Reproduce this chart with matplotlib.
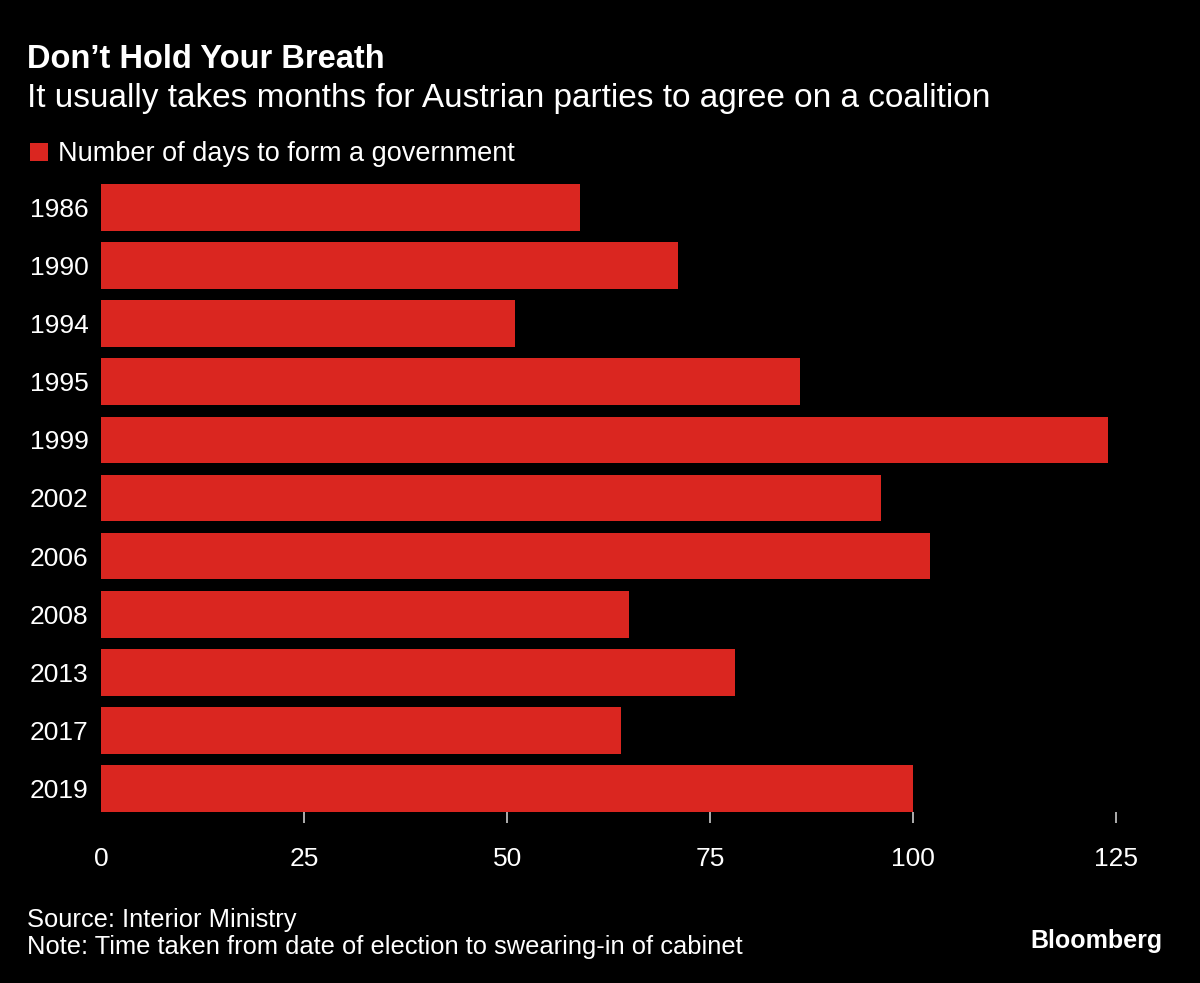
import matplotlib
matplotlib.use("Agg")
import matplotlib.pyplot as plt
from matplotlib.patches import Rectangle

years = ["1986", "1990", "1994", "1995", "1999", "2002", "2006", "2008", "2013", "2017", "2019"]
days = [59, 71, 51, 86, 124, 96, 102, 65, 78, 64, 100]
xticks = [0, 25, 50, 75, 100, 125]
xlabels = ["0", "25", "50", "75", "100", "125"]

BG = "#000000"
RED = "#da2620"
FONT = ['Liberation Sans', 'DejaVu Sans']
plt.rcParams['font.family'] = FONT

fig = plt.figure(figsize=(12, 9.83), dpi=100, facecolor=BG)
W, H = 1200, 983
left, right, top, bottom = 101, 1157, 184, 812
ax = fig.add_axes([left / W, (H - bottom) / H, (right - left) / W, (bottom - top) / H])
ax.set_facecolor(BG)

pos = list(range(len(years)))
ax.barh(pos, days, height=0.8, color=RED, edgecolor='none')
ax.set_xlim(0, 130)
ax.set_ylim(10.4, -0.4)
ax.set_yticks(pos)
ax.set_yticklabels(years, color='white', fontsize=19)
ax.set_xticks(xticks)
ax.set_xticklabels(xlabels, color='white', fontsize=19)
ax.tick_params(axis='y', length=0, pad=9)
ax.tick_params(axis='x', length=8, width=1.2, color='#cccccc', direction='out', pad=17)
ax.xaxis.get_major_ticks()[0].tick1line.set_visible(False)
for s in ax.spines.values():
    s.set_visible(False)

fig.text(27 / W, 1 - 59 / H, "Don\u2019t Hold Your Breath", color='white', fontsize=23.5,
         fontweight='bold', va='center', ha='left')
fig.text(27 / W, 1 - 99 / H, "It usually takes months for Austrian parties to agree on a coalition",
         color='white', fontsize=24, va='center', ha='left')
fig.patches.append(Rectangle((30 / W, 1 - 161 / H), 18 / W, 18 / H, transform=fig.transFigure,
                             facecolor=RED, edgecolor='none'))
fig.text(58 / W, 1 - 154 / H, "Number of days to form a government", color='white',
         fontsize=19.5, va='center', ha='left')
fig.text(27 / W, 1 - 920 / H, "Source: Interior Ministry", color='white', fontsize=18.4,
         va='center', ha='left')
fig.text(27 / W, 1 - 947 / H, "Note: Time taken from date of election to swearing-in of cabinet",
         color='white', fontsize=18.4, va='center', ha='left')
fig.text(1163 / W, 1 - 941 / H, "Bloomberg", color='white', fontsize=18, fontweight='bold',
         va='center', ha='right')

fig.savefig("out.png", dpi=100, facecolor=BG)
